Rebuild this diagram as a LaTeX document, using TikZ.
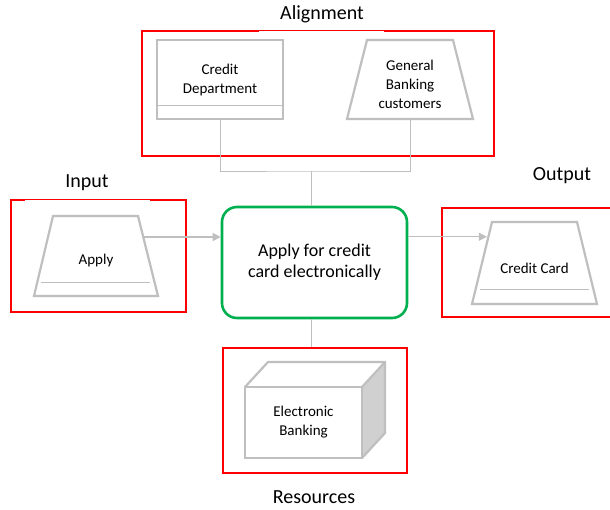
\documentclass[tikz,border=0pt]{standalone}
\usepackage{fontspec}
\setmainfont{Carlito}
\usetikzlibrary{arrows.meta,calc}
\definecolor{shapegray}{HTML}{BFBFBF}
\definecolor{sidegray}{HTML}{D0D0D0}
\definecolor{framered}{HTML}{FF0000}
\definecolor{procgreen}{HTML}{00B050}
\begin{document}
\begin{tikzpicture}[x=1pt,y=-1pt,
  frame/.style={draw=framered,line width=2.5pt,inner sep=0pt},
  title/.style={font=\fontsize{20}{23}\selectfont,inner sep=0pt},
  boxtext/.style={font=\fontsize{15}{19}\selectfont,align=center,inner sep=0pt},
  grayrect/.style={draw=shapegray,line width=2.2pt,inner sep=0pt},
  trapdraw/.style={draw=shapegray,line width=2.2pt,line join=miter},
  proc/.style={draw=procgreen,line width=2.6pt,rounded corners=15pt,inner sep=0pt,
    minimum width=185pt,minimum height=111pt,align=center,
    font=\fontsize{18}{21}\selectfont},
  conn/.style={draw=shapegray,line width=1pt},
  arr/.style={draw=shapegray,line width=1.2pt,-{Triangle[length=8pt,width=8pt]}},
  thin/.style={draw=shapegray,line width=0.9pt}]
\clip (0,0) rectangle (610,509);
\fill[white] (0,0) rectangle (610,509);

% frames
\node[frame,minimum width=352pt,minimum height=125pt] (alignF) at (318,93.5) {};
\node[frame,minimum width=175pt,minimum height=112pt] (inputF) at (98.5,256) {};
\node[frame,minimum width=172pt,minimum height=109pt] (outputF) at (528,262.5) {};
\node[frame,minimum width=184pt,minimum height=125pt] (resF) at (315,410.5) {};
\draw[white,line width=1.2pt] (259,31.9) -- (384,31.9);
\draw[white,line width=1.2pt] (25,200.9) -- (150,200.9);

% titles
\node[title] (tAlign) at (322,14) {Alignment};
\node[title] (tInput) at (87,183) {Input};
\node[title] (tOutput) at (562,176) {Output};
\node[title] (tRes) at (314,497) {Resources};

% alignment shapes
\node[grayrect,minimum width=126pt,minimum height=79pt] (cd) at (220,79.5) {};
\draw[thin] (cd.west |- 0,105) -- (cd.east |- 0,105);
\node[boxtext] (cdt) at (220,79.5) {Credit\\Department};
\coordinate (gbTL) at (367,40); \coordinate (gbTR) at (453,40);
\coordinate (gbBR) at (473,119); \coordinate (gbBL) at (347,119);
\draw[trapdraw] (gbTL) -- (gbTR) -- (gbBR) -- (gbBL) -- cycle;
\coordinate (gbS) at ($(gbBL)!0.5!(gbBR)$);
\node[boxtext] (gbt) at (410,84) {General\\Banking\\customers};

% process
\node[proc] (proc) at (314.5,262.5) {Apply for credit\\card electronically};

% input
\coordinate (apTL) at (53,216); \coordinate (apTR) at (138,216);
\coordinate (apBR) at (158,296); \coordinate (apBL) at (34,296);
\draw[trapdraw] (apTL) -- (apTR) -- (apBR) -- (apBL) -- cycle;
\draw[thin] (41,282) -- (150,282);
\node[boxtext] (applyt) at (96,260) {Apply};

% output
\coordinate (ccTL) at (492,222); \coordinate (ccTR) at (577,222);
\coordinate (ccBR) at (597,304); \coordinate (ccBL) at (472,304);
\draw[trapdraw] (ccTL) -- (ccTR) -- (ccBR) -- (ccBL) -- cycle;
\draw[thin] (480,289) -- (589,289);
\node[boxtext] (cct) at (534.5,268) {Credit Card};

% resources cube
\fill[sidegray] (362,387) -- (385,362) -- (385,433) -- (362,458) -- cycle;
\draw[draw=shapegray,line width=2.2pt,line join=round]
  (245,387) -- (268,362) -- (385,362) -- (362,387)
  (362,387) -- (385,362) -- (385,433) -- (362,458);
\node[grayrect,minimum width=117pt,minimum height=71pt,boxtext] (eb) at (303.5,422.5) {Electronic\\Banking};

% connectors
\coordinate (j) at (311,171);
\draw[conn] (cd.south) |- (j) -| (gbS);
\draw[conn] (j) -- (j |- proc.north);
\coordinate (a1) at ($(apTR)!0.2625!(apBR)$);
\draw[arr] (a1) -- (proc.west |- a1);
\coordinate (c1) at ($(ccTL)!0.18!(ccBL)$);
\draw[arr] (proc.east |- c1) -- ([xshift=-1.5pt]c1);
\draw[conn] (proc.south -| j) -- (resF.north -| j);
\end{tikzpicture}
\end{document}
